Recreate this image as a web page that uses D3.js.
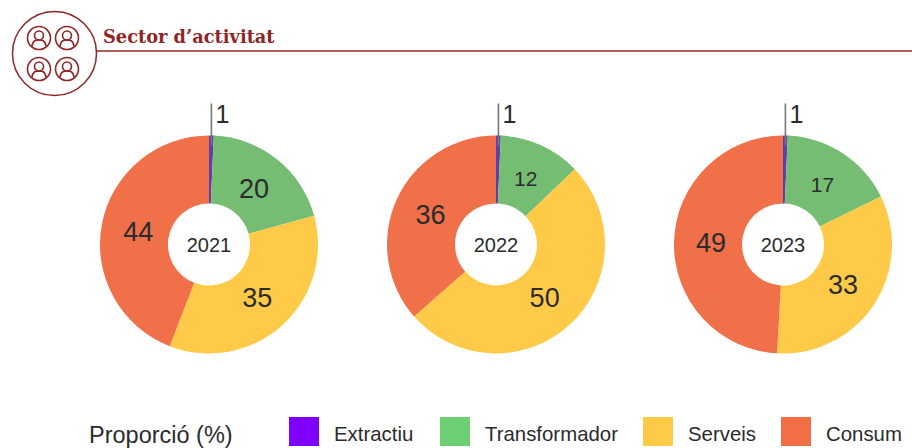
<!DOCTYPE html>
<html>
<head>
<meta charset="utf-8">
<script src="https://d3js.org/d3.v7.min.js"></script>
<style>
    html, body { margin: 0; padding: 0; background: #fff; }
    svg { display: block; }
    text { font-family: "Liberation Sans", Arial, sans-serif; fill: #2b2b2b; }
</style>
</head>
<body>
<div id="chart"></div>
<script>
// Data
var years = ["2021", "2022", "2023"];
var sectors = ["Extractiu", "Transformador", "Serveis", "Consum"];
var extractiu = [0.7, 0.7, 0.7];
var transformador = [20, 12, 17];
var serveis = [35, 50, 33];
var consum = [44, 36, 49];

var width = 912, height = 448;
var dark = "#8f2626";

var svg = d3.select("#chart")
    .append("svg")
    .attr("width", width)
    .attr("height", height);

// header: badge with the four little people, title and rule
var header = svg.append("g");

header.append("line")
    .attr("x1", 97).attr("x2", width)
    .attr("y1", 51).attr("y2", 51)
    .attr("stroke", dark)
    .attr("stroke-width", 1.5);

header.append("circle")
    .attr("cx", 54.5).attr("cy", 53.5).attr("r", 42)
    .attr("fill", "#fff")
    .attr("stroke", dark)
    .attr("stroke-width", 1.5);

[[39, 38], [67, 38], [39, 69], [67, 69]].forEach(function(p) {
    var g = header.append("g")
        .attr("transform", "translate(" + p[0] + "," + p[1] + ")")
        .attr("fill", "none")
        .attr("stroke", dark)
        .attr("stroke-width", 1.6);
    g.append("circle").attr("r", 11.5);
    g.append("circle").attr("cy", -2.5).attr("r", 4.5);
    g.append("path").attr("d", "M-7,8 C-6,2 -3,2 0,2 C3,2 6,2 7,8");
});

header.append("text")
    .attr("x", 103)
    .attr("y", 42.5)
    .style("font-family", "'DejaVu Serif', serif")
    .style("font-weight", "bold")
    .style("font-size", "17.8px")
    .style("fill", dark)
    .text("Sector d\u2019activitat");

// donuts
var color = d3.scaleOrdinal()
    .domain(sectors)
    .range(["#6040a8", "#76bd74", "#ffca48", "#f0704a"]);

var legendColor = d3.scaleOrdinal()
    .domain(sectors)
    .range(["#8000ff", "#6ccf74", "#ffcb47", "#f36d45"]);

var x = d3.scalePoint()
    .domain(years)
    .range([209, 783]);

var cy = 244.5, outer = 109, inner = 41;

var pie = d3.pie().sort(null).value(function(d) { return d.value; });
var arc = d3.arc().innerRadius(inner).outerRadius(outer);
var labelArc = d3.arc().innerRadius(72).outerRadius(72);

years.forEach(function(year, i) {
    var rows = [
        { sector: sectors[0], value: extractiu[i] },
        { sector: sectors[1], value: transformador[i] },
        { sector: sectors[2], value: serveis[i] },
        { sector: sectors[3], value: consum[i] }
    ];
    var slices = pie(rows);

    var g = svg.append("g")
        .attr("transform", "translate(" + x(year) + "," + cy + ")");

    g.selectAll("path")
        .data(slices)
        .enter()
        .append("path")
        .attr("d", arc)
        .attr("fill", function(d) { return color(d.data.sector); });

    // the small slice gets a straight leader line, the rest a label inside
    var mid = (slices[0].startAngle + slices[0].endAngle) / 2;
    var leaderX = Math.sin(mid) * outer;

    g.append("line")
        .attr("x1", leaderX)
        .attr("x2", leaderX)
        .attr("y1", -outer + 10)
        .attr("y2", -outer - 32)
        .attr("stroke", "#777")
        .attr("stroke-width", 1.6);

    g.append("text")
        .attr("x", leaderX + 4)
        .attr("y", -outer - 21)
        .attr("dy", "0.35em")
        .style("font-size", "25px")
        .text(d3.format(".0f")(rows[0].value));

    g.selectAll("text.value")
        .data(slices.slice(1))
        .enter()
        .append("text")
        .attr("class", "value")
        .attr("transform", function(d) { return "translate(" + labelArc.centroid(d) + ")"; })
        .attr("text-anchor", "middle")
        .attr("dy", "0.35em")
        .style("font-size", function(d) { return d.data.value < 20 ? "21px" : "27px"; })
        .text(function(d) { return d3.format(".0f")(d.data.value); });

    g.append("text")
        .attr("text-anchor", "middle")
        .attr("dy", "0.35em")
        .style("font-size", "20px")
        .text(year);
});

// legend
var legendX = [289, 440, 643, 781];

svg.append("text")
    .attr("x", 89)
    .attr("y", 443)
    .style("font-size", "23.5px")
    .text("Proporci\u00f3 (%)");

var legend = svg.selectAll("g.legend")
    .data(sectors)
    .enter()
    .append("g")
    .attr("class", "legend")
    .attr("transform", function(d, i) { return "translate(" + legendX[i] + ",417)"; });

legend.append("rect")
    .attr("width", 30)
    .attr("height", 29)
    .attr("fill", function(d) { return legendColor(d); });

legend.append("text")
    .attr("x", 45)
    .attr("y", 24)
    .style("font-size", "20.4px")
    .text(function(d) { return d; });
</script>
</body>
</html>
